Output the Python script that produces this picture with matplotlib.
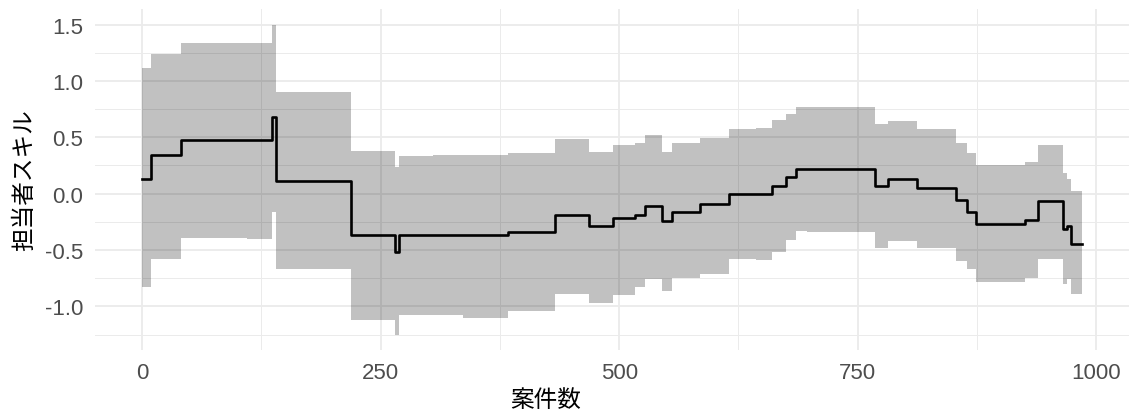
import matplotlib
matplotlib.use("Agg")
import matplotlib.pyplot as plt
from matplotlib import font_manager
from matplotlib.ticker import FixedLocator, FuncFormatter

# ---- data ----
cases = [0, 9.5, 40.5, 110, 136.5, 140.5, 219, 265, 269, 305, 336, 383, 433,
         468, 494, 517, 527, 545, 555, 585, 615, 643, 660, 675, 685, 697,
         768, 782, 812.5, 853, 864, 873.5, 925, 938.5, 965, 969.5, 973.5, 985]
skill = [0.13, 0.34, 0.475, 0.475, 0.68, 0.11, -0.37, -0.52, -0.37, -0.37, -0.37, -0.34, -0.19,
         -0.29, -0.22, -0.19, -0.11, -0.24, -0.16, -0.09, 0.0, 0.0, 0.065, 0.15, 0.22, 0.22,
         0.07, 0.13, 0.05, -0.06, -0.16, -0.27, -0.23, -0.065, -0.31, -0.29, -0.445, -0.445]
lower = [-0.83, -0.58, -0.39, -0.40, -0.16, -0.67, -1.12, -1.25, -1.08, -1.08, -1.10, -1.04, -0.89,
         -0.97, -0.90, -0.83, -0.76, -0.86, -0.75, -0.71, -0.58, -0.59, -0.52, -0.41, -0.33, -0.34,
         -0.48, -0.42, -0.48, -0.60, -0.67, -0.78, -0.75, -0.58, -0.805, -0.76, -0.89, -0.89]
upper = [1.11, 1.24, 1.34, 1.34, 1.50, 0.90, 0.38, 0.24, 0.33, 0.34, 0.34, 0.36, 0.48,
         0.37, 0.43, 0.45, 0.52, 0.37, 0.45, 0.49, 0.57, 0.58, 0.65, 0.71, 0.77, 0.77,
         0.62, 0.645, 0.57, 0.45, 0.36, 0.25, 0.28, 0.43, 0.18, 0.13, 0.02, 0.02]

x_ticks = [0, 250, 500, 750, 1000]
x_minor = [125, 375, 625, 875]
y_ticks = [-1.0, -0.5, 0.0, 0.5, 1.0, 1.5]
y_minor = [-1.25, -0.75, -0.25, 0.25, 0.75, 1.25]
x_title = "案件数"
y_title = "担当者スキル"

# ---- fonts ----
names = {f.name for f in font_manager.fontManager.ttflist}
tick_family = ["Liberation Sans Narrow", "Liberation Sans", "DejaVu Sans"]
tick_family = [f for f in tick_family if f in names] or ["DejaVu Sans"]
cjk_family = ["Noto Sans CJK JP", "DejaVu Sans"]

W, H = 1129, 414
fig = plt.figure(figsize=(W / 100, H / 100), dpi=100)
ax = fig.add_axes([95 / W, (H - 351) / H, 1034 / W, 341 / H])

for s in ax.spines.values():
    s.set_visible(False)

ax.set_xlim(-49.25, 1034.25)
ax.set_ylim(-1.3875, 1.6375)

ax.xaxis.set_major_locator(FixedLocator(x_ticks))
ax.xaxis.set_minor_locator(FixedLocator(x_minor))
ax.yaxis.set_major_locator(FixedLocator(y_ticks))
ax.yaxis.set_minor_locator(FixedLocator(y_minor))
ax.xaxis.set_major_formatter(FuncFormatter(lambda v, p: f"{v:.0f}"))
ax.yaxis.set_major_formatter(FuncFormatter(lambda v, p: f"{v:.1f}".replace("−", "-")))

ax.grid(True, which="major", color="#EBEBEB", lw=1.3, zorder=0)
ax.grid(True, which="minor", color="#EBEBEB", lw=0.7, zorder=0)
ax.set_axisbelow(True)
ax.tick_params(which="both", length=0)
ax.tick_params(axis="both", which="major", pad=8.5, labelcolor="#4D4D4D", labelsize=16)
for lab in ax.get_xticklabels() + ax.get_yticklabels():
    lab.set_family(tick_family)

ax.fill_between(cases, lower, upper, step="post", color="black", alpha=0.245,
                linewidth=0, zorder=2)
ax.step(cases, skill, where="post", color="black", lw=1.9, zorder=3)

ax.set_xlabel(x_title, family=cjk_family, fontsize=17, color="black", va="center")
ax.xaxis.set_label_coords(0.436, -0.146)
ax.set_ylabel(y_title, family=cjk_family, fontsize=17, color="black", va="center")
ax.yaxis.set_label_coords(-0.0677, 0.5)

fig.savefig("out.png", dpi=100)
